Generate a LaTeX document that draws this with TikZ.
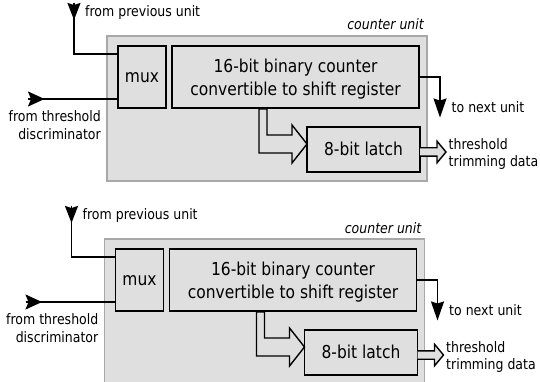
\documentclass[tikz,border=0pt]{standalone}
\usepackage{fontspec}
\setmainfont[FakeStretch=0.87]{DejaVu Sans}
\usetikzlibrary{arrows.meta,calc}

\definecolor{unitfill}{RGB}{223,223,223}
\definecolor{unitedge}{RGB}{168,168,168}

\newcommand\tagfont{\fontsize{14.4}{17.6}\selectfont}
\newcommand\blockfont{\fontsize{17.8}{22.6}\selectfont}

\tikzset{
  unitbox/.style={draw=unitedge, fill=unitfill, line width=1.2pt,
    minimum width=320pt, minimum height=145pt, inner sep=0pt, outer sep=0pt},
  block/.style={draw=black, fill=unitfill, line width=1.7pt, inner sep=0pt,
    outer sep=0pt, font=\blockfont},
  oneline/.style={text height=11.4pt, text depth=0pt},
  wire/.style={draw=black, line width=1.5pt},
  downhead/.style={-{Stealth[length=17pt,width=13pt,inset=2pt]}},
  righthead/.style={-{Stealth[length=16.5pt,width=15pt,inset=3pt]}},
  outhead/.style={-{Stealth[length=19pt,width=13pt,inset=2pt]}},
  bus/.style={draw=black, fill=unitfill, line width=1.4pt, line join=miter},
  tag/.style={font=\tagfont, inner sep=0pt},
}

% one counter unit; #1 prefixes the node names
\newcommand\counterunit[1]{%
  \node[unitbox] (#1frame) at (267,108.5) {};
  \node[tag, font=\tagfont\itshape, anchor=base east] (#1title) at (424,30) {counter unit};
  \node[block, oneline, minimum width=48pt, minimum height=62pt] (#1mux) at (142,77) {mux};
  \node[block, align=center, text height=36.6pt, text depth=0pt,
    minimum width=247pt, minimum height=62pt]
    (#1cnt) at (295.5,77) {16-bit binary counter\\convertible to shift register};
  \node[block, oneline, minimum width=113pt, minimum height=45pt] (#1lat) at (363.5,149.5) {8-bit latch};
  % input from the previous unit
  \coordinate (#1prev) at (74,3);
  \draw[wire] (#1prev) |- ($(#1mux.north west)+(0,8)$);
  \draw[wire, downhead] (#1prev) -- ++(0,17);
  \node[tag, anchor=base west] (#1prevtxt) at (85,16.5) {from previous unit};
  % input from the threshold discriminator
  \coordinate (#1thr) at (28,99);
  \draw[wire] (#1thr) -- (#1thr -| #1mux.west);
  \draw[wire, righthead] (#1thr) -- ++(16.5,0);
  \node[tag, align=right, anchor=base east] (#1thrtxt) at (101,139.3) {from threshold\\discriminator};
  % output to the next unit
  \coordinate (#1next) at (440,117.5);
  \draw[wire, outhead] (#1cnt.east) -| (#1next);
  \node[tag, anchor=base west] (#1nexttxt) at (451.5,112.7) {to next unit};
  % parallel transfer counter -> latch
  \draw[bus] ($(#1cnt.south west)+(87,1)$)
    |- ($(#1lat.west)+(-15,3.5)$) -- ++(0,10)
    -- ($(#1lat.west)+(0,-5.5)$)
    -- ($(#1lat.west)+(-15,-24.5)$) -- ++(0,10)
    -| ($(#1cnt.south west)+(95,1)$) -- cycle;
  % trimming data out of the latch
  \draw[bus] ($(#1lat.east)+(0,-1.7)$) -- ++(17,0) -- ++(0,-6.6)
    -- ($(#1lat.east)+(26,2.5)$)
    -- ($(#1lat.east)+(17,13.3)$) -- ++(0,-6.6) -- ($(#1lat.east)+(0,6.7)$);
  \node[tag, align=left, anchor=base west] (#1trimtxt) at (448.5,166.7) {threshold\\trimming data};
}

\begin{document}
\begin{tikzpicture}[x=1pt, y=-1pt]
  \useasboundingbox (0,0) rectangle (540,382);
  \clip (0,0) rectangle (540,382);
  \counterunit{a-}
  \begin{scope}[shift={(-2.5,203)}]
    \counterunit{b-}
  \end{scope}
\end{tikzpicture}
\end{document}
